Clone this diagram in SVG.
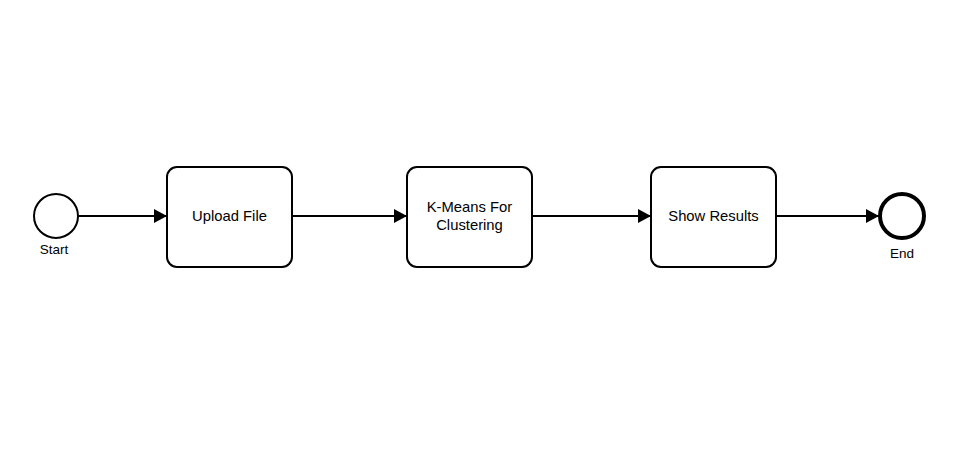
<svg xmlns="http://www.w3.org/2000/svg" width="954" height="463" viewBox="0 0 954 463">
<style>
.task{fill:#fff;stroke:#000;stroke-width:2}
.ev{fill:#fff;stroke:#000}
.t{font-family:"Liberation Sans",Arial,sans-serif;font-size:14.8px;fill:#000;text-anchor:middle}
.l{font-family:"Liberation Sans",Arial,sans-serif;font-size:13.5px;fill:#000;text-anchor:middle}
.c{fill:none;stroke:#000;stroke-width:2}
</style>
<defs>
<marker id="arr" markerUnits="userSpaceOnUse" markerWidth="14" markerHeight="16" refX="13" refY="7" orient="auto">
<path d="M0,0 L13,7 L0,14 Z" fill="#000"/>
</marker>
</defs>
<rect width="954" height="463" fill="#fff"/>
<g id="connectors">
<line class="c" x1="78" y1="216" x2="167" y2="216" marker-end="url(#arr)"/>
<line class="c" x1="292" y1="216" x2="407" y2="216" marker-end="url(#arr)"/>
<line class="c" x1="532" y1="216" x2="651" y2="216" marker-end="url(#arr)"/>
<line class="c" x1="776" y1="216" x2="879" y2="216" marker-end="url(#arr)"/>
</g>
<g id="start">
<circle class="ev" cx="56" cy="216" r="22" stroke-width="2"/>
<text class="l" x="54" y="254">Start</text>
</g>
<g id="upload">
<rect class="task" x="167" y="167" width="125" height="100" rx="10"/>
<text class="t" x="229.5" y="221">Upload File</text>
</g>
<g id="kmeans">
<rect class="task" x="407" y="167" width="125" height="100" rx="10"/>
<text class="t" x="469.5" y="212">K-Means For</text>
<text class="t" x="469.5" y="230">Clustering</text>
</g>
<g id="show">
<rect class="task" x="651" y="167" width="125" height="100" rx="10"/>
<text class="t" x="713.5" y="221">Show Results</text>
</g>
<g id="end">
<circle class="ev" cx="902" cy="216" r="22" stroke-width="4"/>
<text class="l" x="902" y="258">End</text>
</g>
</svg>
